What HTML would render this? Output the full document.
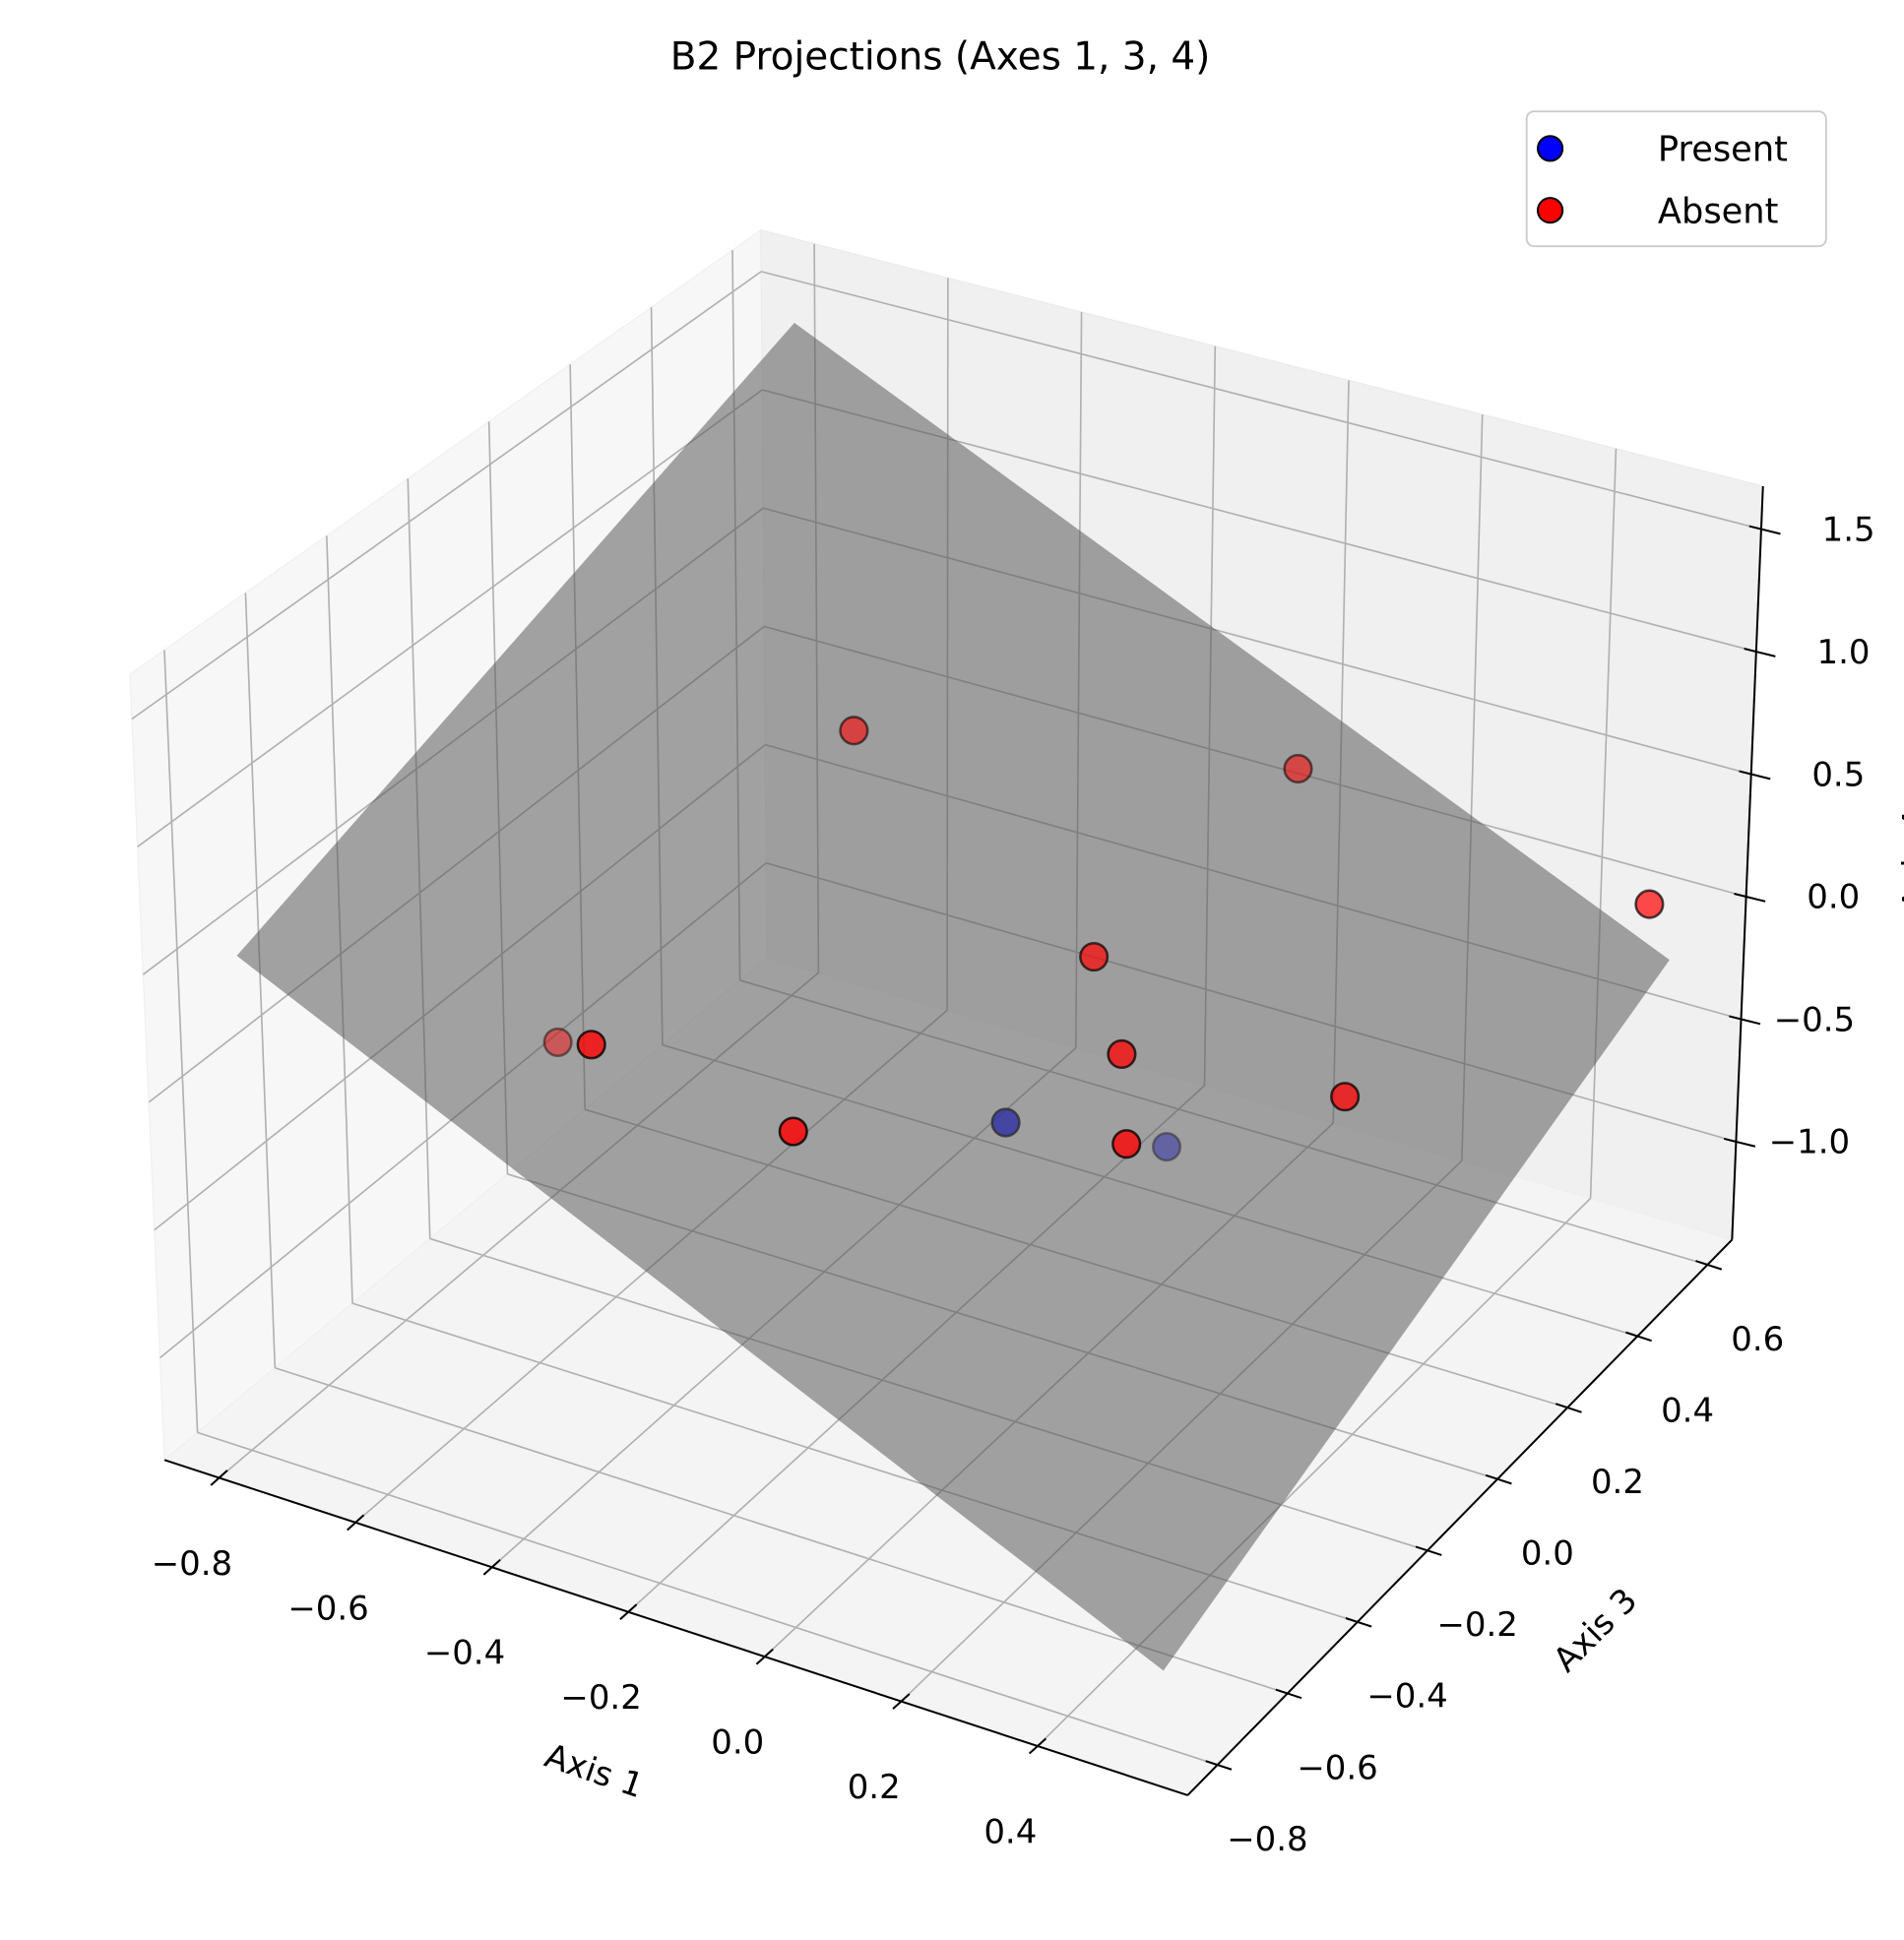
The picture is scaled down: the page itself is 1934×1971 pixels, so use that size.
<!DOCTYPE html>
<html><head><meta charset="utf-8"><style>
html,body{margin:0;padding:0;background:#fff;}
svg{display:block;font-family:"DejaVu Sans","Liberation Sans",sans-serif;}
</style></head><body>
<svg id="chart" xmlns="http://www.w3.org/2000/svg" width="1934" height="1971" viewBox="0 0 1539 1568" preserveAspectRatio="none">
<text x="760" y="56" text-anchor="middle" font-size="31" fill="#000">B2 Projections (Axes 1, 3, 4)</text>
<g id="scene"></g>
<g>
<rect x="1234" y="90" width="242" height="109" rx="6" fill="#fff" fill-opacity="0.8" stroke="#cccccc" stroke-width="1.5"/>
<circle cx="1253" cy="120" r="10" fill="#0000ff" stroke="#000" stroke-width="1.6"/>
<text x="1340" y="130" font-size="28" fill="#000">Present</text>
<circle cx="1253" cy="170" r="10" fill="#ff0000" stroke="#000" stroke-width="1.6"/>
<text x="1340" y="180" font-size="28" fill="#000">Absent</text>
</g>
</svg>
<script>
// ---- data ----
const xRange = [-0.88, 0.62];
const yRange = [-0.685, 0.87];
const zRange = [-1.40, 1.675];
const xTicks = [-0.8, -0.6, -0.4, -0.2, 0.0, 0.2, 0.4];
const xTickLabels = ["\u22120.8", "\u22120.6", "\u22120.4", "\u22120.2", "0.0", "0.2", "0.4"];
const yTicks = [-0.6, -0.4, -0.2, 0.0, 0.2, 0.4, 0.6, 0.8];
const yLabelValues = [-0.8, -0.6, -0.4, -0.2, 0.0, 0.2, 0.4, 0.6];
const yTickLabels = ["\u22120.8", "\u22120.6", "\u22120.4", "\u22120.2", "0.0", "0.2", "0.4", "0.6"];
const zTicks = [-1.0, -0.5, 0.0, 0.5, 1.0, 1.5];
const zTickLabels = ["\u22121.0", "\u22120.5", "0.0", "0.5", "1.0", "1.5"];
const presentX = [0.007, -0.039];
const presentY = [-0.040, 0.481];
const presentZ = [-0.155, -0.985];
const absentX = [-0.428, -0.005, 0.515, -0.039, 0.058, 0.290, -0.735, -0.412, -0.174, 0.128];
const absentY = [0.335, 0.763, 0.792, 0.279, 0.180, 0.368, 0.093, -0.376, -0.278, 0.066];
const absentZ = [0.597, 0.207, 0.0, 0.055, -0.13, -0.37, -0.605, 0.24, -0.03, -0.282];
const planeXRange = [-0.77, 0.56];
const planeYRange = [-0.64, 0.77];
const planeCoef = [0.054, -1.24, 0.62];

// ---- projection (box corners in screen space) ----
const C = {
  c000:[133,1180], c100:[960,1451], c010:[620,774], c110:[1400,1002],
  c001:[105,545],  c101:[967,797],  c011:[615,186], c111:[1425,393]
};
function norm(x,y,z){
  return [(x-xRange[0])/(xRange[1]-xRange[0]), (y-yRange[0])/(yRange[1]-yRange[0]), (z-zRange[0])/(zRange[1]-zRange[0])];
}
function lerp(a,b,t){return [a[0]+(b[0]-a[0])*t, a[1]+(b[1]-a[1])*t];}
function P(x,y,z){
  const [u,v,w]=norm(x,y,z);
  const b0=lerp(lerp(C.c000,C.c100,u), lerp(C.c010,C.c110,u), v);
  const b1=lerp(lerp(C.c001,C.c101,u), lerp(C.c011,C.c111,u), v);
  return lerp(b0,b1,w);
}
const NS="http://www.w3.org/2000/svg";
const scene=document.getElementById('scene');
function mk(tag, attrs){
  const e=document.createElementNS(NS,tag);
  for(const k in attrs) e.setAttribute(k,attrs[k]);
  scene.appendChild(e); return e;
}
function poly(pts){return pts.map(p=>p[0].toFixed(1)+','+p[1].toFixed(1)).join(' ');}
const [X0,X1]=xRange,[Y0,Y1]=yRange,[Z0,Z1]=zRange;

// panes
let e;
e=mk('polygon',{points:poly([P(X0,Y0,Z0),P(X0,Y1,Z0),P(X0,Y1,Z1),P(X0,Y0,Z1)]),fill:'#f7f7f7',stroke:'#f0f0f0','stroke-width':1});
 
e=mk('polygon',{points:poly([P(X0,Y1,Z0),P(X1,Y1,Z0),P(X1,Y1,Z1),P(X0,Y1,Z1)]),fill:'#f0f0f0',stroke:'#ebebeb','stroke-width':1});
 
e=mk('polygon',{points:poly([P(X0,Y0,Z0),P(X1,Y0,Z0),P(X1,Y1,Z0),P(X0,Y1,Z0)]),fill:'#f4f4f4',stroke:'#efefef','stroke-width':1});
 

// gridlines
function gl(a,b,name){
  const l=mk('line',{x1:a[0],y1:a[1],x2:b[0],y2:b[1],stroke:'#b0b0b0','stroke-width':1.3});
  
  
}
xTicks.forEach(x=>{ gl(P(x,Y0,Z0),P(x,Y1,Z0),'floor-gridline-x'); gl(P(x,Y1,Z0),P(x,Y1,Z1),'back-gridline-x'); });
yTicks.forEach(y=>{ gl(P(X0,y,Z0),P(X1,y,Z0),'floor-gridline-y'); gl(P(X0,y,Z0),P(X0,y,Z1),'left-gridline-y'); });
zTicks.forEach(z=>{ gl(P(X0,Y0,z),P(X0,Y1,z),'left-gridline-z'); gl(P(X0,Y1,z),P(X1,Y1,z),'back-gridline-z'); });

// depth shading
function depthOf(x,y,z){const [u,v,w]=norm(x,y,z); return u-v+0.5*w;}
const allD=[];
presentX.forEach((x,i)=>allD.push(depthOf(x,presentY[i],presentZ[i])));
absentX.forEach((x,i)=>allD.push(depthOf(x,absentY[i],absentZ[i])));
const dMin=Math.min(...allD), dMax=Math.max(...allD);
function alphaOf(x,y,z){return 0.45+0.37*(depthOf(x,y,z)-dMin)/(dMax-dMin);}

function point(x,y,z,fill,name){
  const p=P(x,y,z), a=alphaOf(x,y,z);
  const c=mk('circle',{cx:p[0].toFixed(1),cy:p[1].toFixed(1),r:11,fill:fill,'fill-opacity':a.toFixed(2),stroke:'#000','stroke-opacity':a.toFixed(2),'stroke-width':2});
  
  
}
// present points (beneath the plane)
presentX.forEach((x,i)=>point(x,presentY[i],presentZ[i],'#0000ff','present-point'));

// plane surface
const [a0,b0,c0]=planeCoef;
function pz(x,y){return a0+b0*x+c0*y;}
const [px0,px1]=planeXRange,[py0,py1]=planeYRange;
e=mk('polygon',{points:poly([P(px0,py0,pz(px0,py0)),P(px1,py0,pz(px1,py0)),P(px1,py1,pz(px1,py1)),P(px0,py1,pz(px0,py1))]),fill:'#555555','fill-opacity':0.53});
 

// absent points
absentX.forEach((x,i)=>point(x,absentY[i],absentZ[i],'#ff0000','absent-point'));

// axis lines
function axisLine(a,b,name){
  const l=mk('line',{x1:a[0],y1:a[1],x2:b[0],y2:b[1],stroke:'#000','stroke-width':1.6});
  
  
}
axisLine(P(X0,Y0,Z0),P(X1,Y0,Z0),'x-axis-line');
axisLine(P(X1,Y0,Z0),P(X1,Y1,Z0),'y-axis-line');
axisLine(P(X1,Y1,Z0),P(X1,Y1,Z1),'z-axis-line');

function tick(p,dx,dy,s0,s1,name){
  const t=mk('line',{x1:p[0]+dx*s0,y1:p[1]+dy*s0,x2:p[0]+dx*s1,y2:p[1]+dy*s1,stroke:'#000','stroke-width':1.6});
  
  
}
function label(x,y,txt,anchor,name){
  const t=mk('text',{x:x.toFixed(1),y:y.toFixed(1),'text-anchor':anchor,'dominant-baseline':'central','font-size':27,fill:'#000'});
  t.textContent=txt;
  
  
}
xTicks.forEach((x,i)=>{
  const p=P(x,Y0,Z0);
  tick(p,0.74,-0.67,-9,9,'x-tick');
  label(p[0]-22,p[1]+70,xTickLabels[i],'middle','x-tick-label');
});
yTicks.forEach(y=>{ tick(P(X1,y,Z0),0.95,0.31,-10,12,'y-tick'); });
yLabelValues.forEach((y,i)=>{
  const p=P(X1,y,Z0);
  label(p[0]+97,p[1]+3,yTickLabels[i],'middle','y-tick-label');
});
zTicks.forEach((z,i)=>{
  const p=P(X1,Y1,z);
  tick(p,0.97,0.24,-10,16,'z-tick');
  label(p[0]+92,p[1]+1,zTickLabels[i],'end','z-tick-label');
});

// axis titles
function title(x,y,rot,txt,name){
  const t=mk('text',{x:x,y:y,'text-anchor':'middle','dominant-baseline':'central','font-size':27,fill:'#000',transform:`rotate(${rot} ${x} ${y})`});
  t.textContent=txt;
  
  
}
title(480,1432,19,'Axis 1','x-axis-title');
title(1290,1318,-45,'Axis 3','y-axis-title');
title(1549,695,-90,'Axis 4','z-axis-title');
</script>
</body></html>
